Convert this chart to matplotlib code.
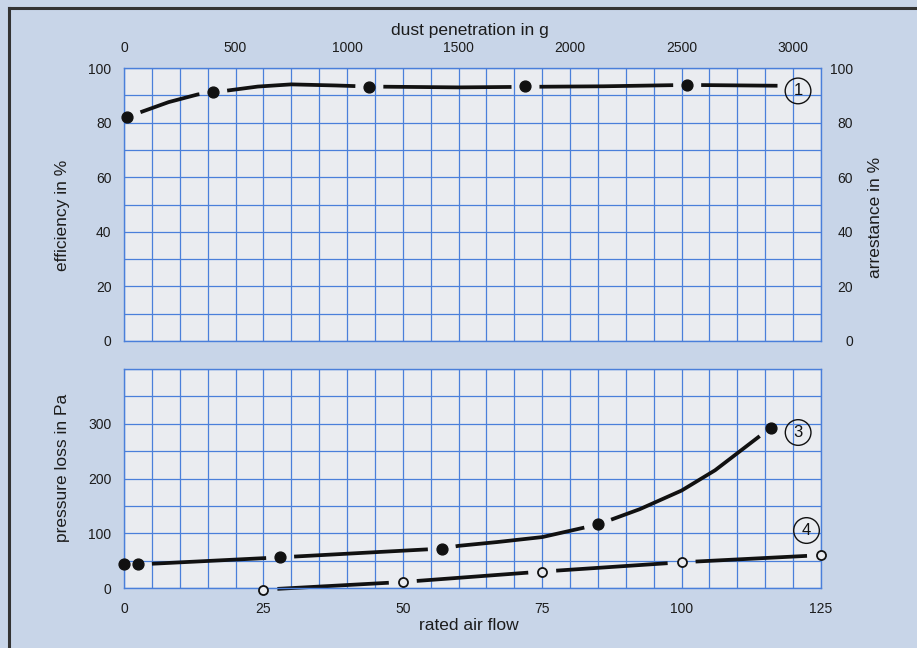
import numpy as np
import matplotlib
matplotlib.use("Agg")
import matplotlib.pyplot as plt
import matplotlib.transforms as mtransforms

plt.rcParams['font.family'] = ['Liberation Sans', 'DejaVu Sans']

# ---------------- data ----------------
# curve 1: efficiency/arrestance vs dust penetration (g)
c1_mark_x = [15, 400, 1100, 1800, 2525]
c1_mark_y = [82, 91.2, 93.2, 93.4, 93.8]
c1_line_x = [15, 60, 200, 330, 400, 460, 600, 750, 950, 1100, 1500, 1800, 2150, 2525, 2930]
c1_line_y = [82, 83.4, 87.5, 90.3, 91.2, 91.7, 93.2, 94.0, 93.6, 93.2, 92.9, 93.1, 93.3, 93.8, 93.5]

# curve 3: pressure loss vs rated air flow (filled markers)
c3_mark_x = [0, 2.5, 28, 57, 85, 116]
c3_mark_y = [43, 43, 56, 72, 116, 293]
c3_line_x = [2.5, 28, 57, 60, 67, 75, 85, 92.5, 100, 106, 111, 116]
c3_line_y = [43, 56, 72, 77, 84, 93, 116, 144, 178, 215, 254, 293]

# curve 4: pressure loss vs rated air flow (open markers)
c4_mark_x = [25, 50, 75, 100, 125]
c4_mark_y = [-3, 11, 30, 47, 60]

top_ticks = [0, 500, 1000, 1500, 2000, 2500, 3000]
eff_ticks = [0, 20, 40, 60, 80, 100]
flow_ticks = [0, 25, 50, 75, 100, 125]
pa_ticks = [0, 100, 200, 300]

# ---------------- style ----------------
BG = '#c8d5e8'
PANEL = '#eaecf0'
GRID = '#4a7fda'
TXT = '#1c1c1c'
INK = '#111111'

W, H = 917, 648
fig = plt.figure(figsize=(W / 100, H / 100), dpi=100, facecolor=BG)

ax1 = fig.add_axes([124 / W, 1 - 341 / H, 697 / W, 273 / H])
ax2 = fig.add_axes([124 / W, 1 - 588 / H, 697 / W, 219 / H])

for ax in (ax1, ax2):
    ax.set_facecolor(PANEL)
    for s in ax.spines.values():
        s.set_color(GRID)
        s.set_linewidth(1.0)
    ax.tick_params(which='both', length=0, colors=TXT, labelsize=10)
    ax.set_axisbelow(True)

# top panel
ax1.set_xlim(0, 3125)
ax1.set_ylim(0, 100)
ax1.set_xticks(top_ticks)
ax1.set_xticks(np.arange(0, 3126, 125), minor=True)
ax1.set_yticks(eff_ticks)
ax1.set_yticks(np.arange(0, 101, 10), minor=True)
ax1.xaxis.tick_top()
ax1.tick_params(axis='x', which='major', pad=9)
ax1.tick_params(axis='y', which='major', pad=9, labelright=True)
ax1.grid(True, which='both', color=GRID, linewidth=0.9)
offset = mtransforms.ScaledTranslation(14 / 72, 0, fig.dpi_scale_trans)
for t in ax1.yaxis.get_major_ticks():
    t.label2.set_horizontalalignment('right')
    t.label2.set_transform(t.label2.get_transform() + offset)

# bottom panel
ax2.set_xlim(0, 125)
ax2.set_ylim(0, 400)
ax2.set_xticks(flow_ticks)
ax2.set_xticks(np.arange(0, 126, 5), minor=True)
ax2.set_yticks(pa_ticks)
ax2.set_yticks(np.arange(0, 401, 50), minor=True)
ax2.tick_params(axis='x', which='major', pad=10)
ax2.tick_params(axis='y', which='major', pad=9)
ax2.grid(True, which='both', color=GRID, linewidth=0.9)


def draw_gapped(ax, xs, ys, mx, my, r_px, **kw):
    P = ax.transData.transform(np.column_stack([xs, ys]))
    M = ax.transData.transform(np.column_stack([mx, my]))
    pieces = []
    cur = []
    for i in range(len(P) - 1):
        a, b = P[i], P[i + 1]
        d = b - a
        A = d @ d
        if A == 0:
            continue
        cuts = []
        for m in M:
            f = a - m
            B = 2 * (f @ d)
            C = f @ f - r_px ** 2
            disc = B * B - 4 * A * C
            if disc > 0:
                sq = np.sqrt(disc)
                t1 = (-B - sq) / (2 * A)
                t2 = (-B + sq) / (2 * A)
                if t2 > 0 and t1 < 1:
                    cuts.append((max(t1, 0.0), min(t2, 1.0)))
        cuts.sort()
        kept = []
        s = 0.0
        for c0, c1 in cuts:
            if c0 > s:
                kept.append((s, c0))
            s = max(s, c1)
        if s < 1:
            kept.append((s, 1.0))
        for (k0, k1) in kept:
            p0 = a + k0 * d
            p1 = a + k1 * d
            if k0 == 0.0 and cur:
                cur.append(p1)
            else:
                if cur:
                    pieces.append(cur)
                cur = [p0, p1]
            if k1 < 1.0:
                pieces.append(cur)
                cur = []
        if not kept and cur:
            pieces.append(cur)
            cur = []
    if cur:
        pieces.append(cur)
    inv = ax.transData.inverted()
    for pc in pieces:
        if len(pc) < 2:
            continue
        D = inv.transform(np.array(pc))
        ax.plot(D[:, 0], D[:, 1], clip_on=False, solid_capstyle='butt',
                solid_joinstyle='round', **kw)


LW = 2.7
draw_gapped(ax1, c1_line_x, c1_line_y, c1_mark_x, c1_mark_y, 14, color=INK, lw=LW)
ax1.plot(c1_mark_x, c1_mark_y, 'o', color=INK, ms=7.8, clip_on=False, zorder=5)

draw_gapped(ax2, c3_line_x, c3_line_y, c3_mark_x, c3_mark_y, 14, color=INK, lw=LW)
ax2.plot(c3_mark_x, c3_mark_y, 'o', color=INK, ms=7.8, clip_on=False, zorder=5)

draw_gapped(ax2, c4_mark_x, c4_mark_y, c4_mark_x, c4_mark_y, 14, color=INK, lw=LW)
ax2.plot(c4_mark_x, c4_mark_y, 'o', mfc=PANEL, mec=INK, mew=1.3, ms=6.5,
         clip_on=False, zorder=5)

circ = dict(boxstyle='circle,pad=0.32', fc='none', ec=INK, lw=1.0)
ax1.text(3022, 91.6, '1', ha='center', va='center', fontsize=12, color=INK, bbox=circ)
ax2.text(120.9, 284, '3', ha='center', va='center', fontsize=12, color=INK, bbox=circ)
ax2.text(122.4, 105, '4', ha='center', va='center', fontsize=12, color=INK, bbox=circ)

# axis titles
FS = 12.5
fig.text(470 / W, 1 - 30 / H, 'dust penetration in g', ha='center', va='center',
         fontsize=FS, color=TXT)
fig.text(469 / W, 1 - 626 / H, 'rated air flow', ha='center', va='center',
         fontsize=FS, color=TXT)
fig.text(62 / W, 1 - 215 / H, 'efficiency in %', ha='center', va='center',
         rotation=90, fontsize=FS, color=TXT)
fig.text(876 / W, 1 - 217 / H, 'arrestance in %', ha='center', va='center',
         rotation=90, fontsize=FS, color=TXT)
fig.text(62 / W, 1 - 468 / H, 'pressure loss in Pa', ha='center', va='center',
         rotation=90, fontsize=FS, color=TXT)

# scanned frame (left & top)
fig.add_artist(plt.Line2D([9 / W, 9 / W], [0, 1 - 8 / H], color='#333333', lw=2.2))
fig.add_artist(plt.Line2D([9 / W, 1], [1 - 8 / H, 1 - 8 / H], color='#333333', lw=2.2))

fig.savefig('out.png', dpi=100, facecolor=BG)
